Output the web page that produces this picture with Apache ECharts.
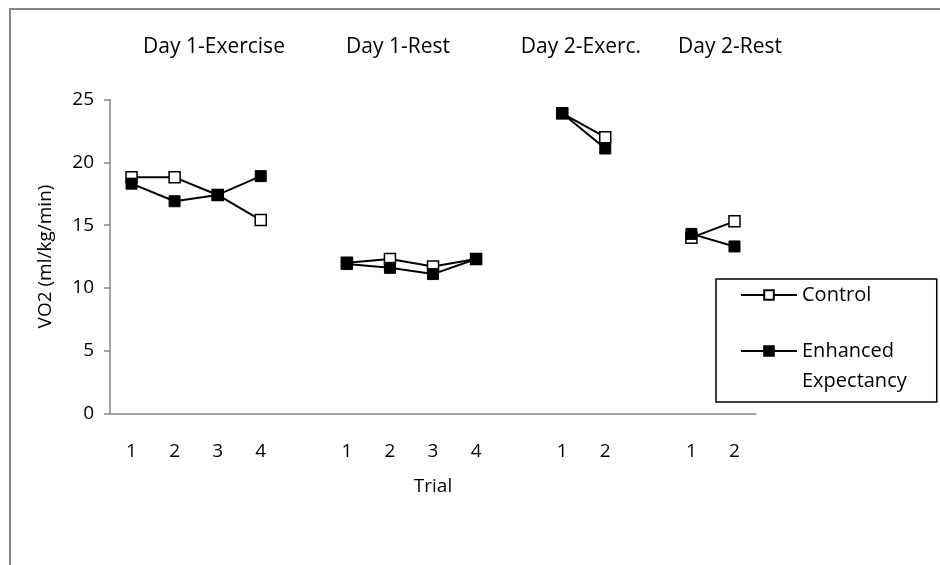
<!DOCTYPE html>
<html>
<head>
<meta charset="utf-8">
<script src="https://cdn.jsdelivr.net/npm/echarts@6/dist/echarts.min.js"></script>
<style>
  html, body { margin: 0; padding: 0; background: #fff; }
  #chart { width: 940px; height: 565px; }
</style>
</head>
<body>
<div id="chart"></div>
<script>
// trial slots on the x axis, blanks separate the four sessions
const trialLabels = ["1", "2", "3", "4", "", "1", "2", "3", "4", "", "1", "2", "", "1", "2"];
const sessionTitles = ["Day 1-Exercise", "Day 1-Rest", "Day 2-Exerc.", "Day 2-Rest"];
const seriesNames = ["Control", "Enhanced Expectancy"];

const controlVO2 = [18.8, 18.8, 17.4, 15.4, null, 12.0, 12.3, 11.7, 12.3, null, 23.9, 22.0, null, 14.0, 15.3];
const enhancedVO2 = [18.3, 16.9, 17.4, 18.9, null, 11.9, 11.6, 11.1, 12.3, null, 23.9, 21.1, null, 14.3, 13.3];

const yTicks = { min: 0, max: 25, interval: 5 };

const FONT = "Open Sans";
const titleX = [214, 398, 581, 730];

const chart = echarts.init(document.getElementById("chart"), null, { renderer: "canvas" });

const axisGray = "#868686";

const option = {
  backgroundColor: "#fff",
  animation: false,
  textStyle: { fontFamily: FONT },
  graphic: [
    {
      type: "rect",
      shape: { x: 10, y: 9, width: 1000, height: 1000 },
      style: { fill: "none", stroke: axisGray, lineWidth: 2 },
      silent: true,
      z: -1
    },
    ...sessionTitles.map((t, i) => ({
      type: "text",
      x: titleX[i],
      y: 47,
      style: {
        text: t,
        fill: "#000",
        font: "21px '" + FONT + "'",
        align: "center",
        verticalAlign: "middle"
      }
    }))
  ],
  legend: {
    orient: "vertical",
    left: 716,
    top: 279,
    padding: [1, 30, 6, 24],
    itemWidth: 56,
    itemHeight: 12,
    itemGap: -4,
    borderColor: "#000",
    borderWidth: 1.5,
    data: seriesNames,
    // blank first line keeps the marker level with "Enhanced"
    formatter: (name) => (name.indexOf(" ") > 0 ? " \n" + name.replace(" ", "\n") : name),
    textStyle: { fontFamily: FONT, fontSize: 20, color: "#000", lineHeight: 30 }
  },
  grid: {
    left: 110,
    right: 184,
    top: 99.5,
    bottom: 151.5
  },
  xAxis: {
    type: "category",
    data: trialLabels,
    boundaryGap: true,
    name: "Trial",
    nameLocation: "middle",
    nameGap: 64,
    nameTextStyle: { fontFamily: FONT, fontSize: 19, color: "#000" },
    axisLine: { lineStyle: { color: axisGray, width: 1.5 } },
    axisTick: { interval: 0, length: 6, lineStyle: { color: axisGray, width: 1.5 } },
    axisLabel: { interval: 0, margin: 29, fontFamily: FONT, fontSize: 19, color: "#000" },
    splitLine: { show: false }
  },
  yAxis: {
    type: "value",
    min: yTicks.min,
    max: yTicks.max,
    interval: yTicks.interval,
    name: "VO2 (ml/kg/min)",
    nameLocation: "middle",
    nameGap: 55,
    nameTextStyle: { fontFamily: FONT, fontSize: 19, color: "#000" },
    axisLine: { show: true, lineStyle: { color: axisGray, width: 1.5 } },
    axisTick: { show: true, length: 6, lineStyle: { color: axisGray, width: 1.5 } },
    axisLabel: { margin: 16, fontFamily: FONT, fontSize: 19, color: "#000" },
    splitLine: { show: false }
  },
  series: [
    {
      name: seriesNames[0],
      type: "line",
      data: controlVO2,
      connectNulls: false,
      symbol: "rect",
      symbolSize: 11,
      lineStyle: { color: "#000", width: 2 },
      itemStyle: { color: "#fff", borderColor: "#000", borderWidth: 1.5 }
    },
    {
      name: seriesNames[1],
      type: "line",
      data: enhancedVO2,
      connectNulls: false,
      symbol: "rect",
      symbolSize: 11,
      lineStyle: { color: "#000", width: 2 },
      itemStyle: { color: "#000", borderColor: "#000", borderWidth: 1 }
    }
  ]
};

chart.setOption(option);
</script>
</body>
</html>
